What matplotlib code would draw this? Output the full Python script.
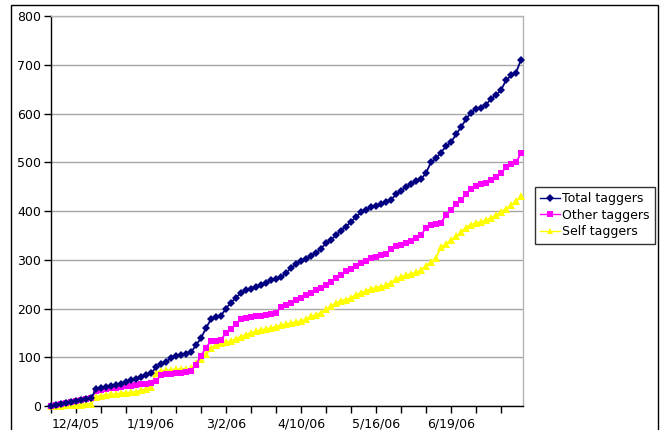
import matplotlib
matplotlib.use("Agg")
import matplotlib.pyplot as plt
from matplotlib.patches import Rectangle

# Excel-style category axis: one point per sampled row, ticks every 5 rows
total_taggers = [
    0, 2, 4, 6, 8, 10, 12, 14, 16, 34, 37, 40, 42, 43, 46, 49, 53, 56, 59, 63,
    67, 79, 86, 90, 99, 102, 104, 106, 110, 125, 139, 160, 178, 183, 185, 200,
    212, 222, 232, 238, 241, 245, 249, 253, 258, 261, 264, 273, 283, 291, 297,
    302, 308, 314, 322, 335, 341, 350, 360, 368, 378, 388, 397, 403, 408, 411,
    414, 418, 423, 434, 442, 449, 455, 461, 465, 478, 500, 508, 520, 533, 541,
    557, 572, 588, 602, 609, 612, 618, 630, 638, 648, 668, 678, 684, 710,
]
other_taggers = [
    0, 2, 4, 6, 8, 10, 12, 14, 16, 30, 32, 34, 36, 37, 39, 41, 42, 43, 45, 46,
    47, 52, 63, 65, 66, 67, 68, 69, 72, 85, 103, 120, 133, 134, 136, 150, 158,
    168, 178, 181, 183, 184, 185, 187, 188, 190, 204, 208, 212, 217, 222, 227,
    232, 237, 243, 249, 255, 262, 269, 276, 281, 288, 294, 298, 303, 306, 309,
    312, 322, 328, 331, 334, 338, 344, 350, 366, 371, 373, 376, 392, 402, 414,
    423, 434, 446, 452, 455, 458, 463, 469, 477, 490, 496, 500, 518,
]
self_taggers = [
    0, 1, 1, 2, 2, 3, 3, 4, 5, 19, 21, 23, 24, 25, 26, 27, 28, 29, 32, 35, 38,
    68, 72, 73, 74, 75, 76, 76, 77, 88, 96, 106, 118, 126, 129, 131, 133, 138,
    142, 146, 150, 153, 156, 158, 160, 163, 166, 168, 170, 172, 174, 178, 184,
    187, 191, 198, 205, 211, 216, 218, 222, 228, 232, 236, 240, 243, 245, 248,
    253, 260, 265, 268, 271, 274, 278, 288, 295, 304, 326, 333, 340, 348, 357,
    366, 372, 375, 378, 381, 386, 391, 398, 404, 412, 420, 430,
]
date_labels = ["12/4/05", "1/19/06", "3/2/06", "4/10/06", "5/16/06", "6/19/06"]
label_rows = [5, 20, 35, 50, 65, 80]
tick_rows = list(range(0, 95, 5))
y_ticks = list(range(0, 801, 100))

W, H = 664, 430
fig = plt.figure(figsize=(W / 100, H / 100), dpi=100)
fig.patch.set_facecolor("white")

# outer chart-area border
fig.patches.append(Rectangle((11 / W, -0.05), (658 - 11) / W, 1.05 - 5 / H,
                             transform=fig.transFigure, fill=False,
                             edgecolor="black", linewidth=1.0))

ax = fig.add_axes([51 / W, (H - 406) / H, (523 - 51) / W, (406 - 16) / H])
rows = list(range(len(total_taggers)))

style = dict(linewidth=1.3, clip_on=False, zorder=3, markeredgewidth=0)
ax.plot(rows, self_taggers, color="#ffff00", marker="^", markersize=5.2,
        label="Self taggers", **style)
ax.plot(rows, other_taggers, color="#ff00ff", marker="s", markersize=4.2,
        label="Other taggers", **style)
ax.plot(rows, total_taggers, color="#000080", marker="D", markersize=4.2,
        label="Total taggers", **style)

ax.set_xlim(0, 94.4)
ax.set_ylim(0, 800)
ax.set_yticks(y_ticks)
ax.set_xticks(tick_rows, minor=True)
ax.set_xticks(label_rows)
ax.set_xticklabels(date_labels)
ax.tick_params(axis="both", which="both", direction="out", length=5,
               width=1, color="black", labelsize=9, labelcolor="black")
ax.tick_params(axis="x", pad=3)
ax.tick_params(axis="y", pad=2)

ax.grid(axis="y", color="#a6a6a6", linewidth=1.0)
ax.set_axisbelow(True)
ax.spines["left"].set_color("black")
ax.spines["bottom"].set_color("black")
ax.spines["right"].set_color("#b4b4b4")
ax.spines["top"].set_color("#b4b4b4")
for s in ax.spines.values():
    s.set_linewidth(1.0)

handles, labels = ax.get_legend_handles_labels()
leg = fig.legend(handles[::-1], labels[::-1], loc="upper left",
                 bbox_to_anchor=(535 / W, (H - 187) / H),
                 bbox_transform=fig.transFigure, fontsize=9,
                 frameon=True, fancybox=False, borderaxespad=0,
                 handlelength=1.6, handletextpad=0.2, labelspacing=0.3,
                 borderpad=0.4, markerscale=0.9)
leg.get_frame().set_edgecolor("black")
leg.get_frame().set_linewidth(1.0)
for line in leg.get_lines():
    line.set_linewidth(1.0)

fig.savefig("out.png", dpi=100)
